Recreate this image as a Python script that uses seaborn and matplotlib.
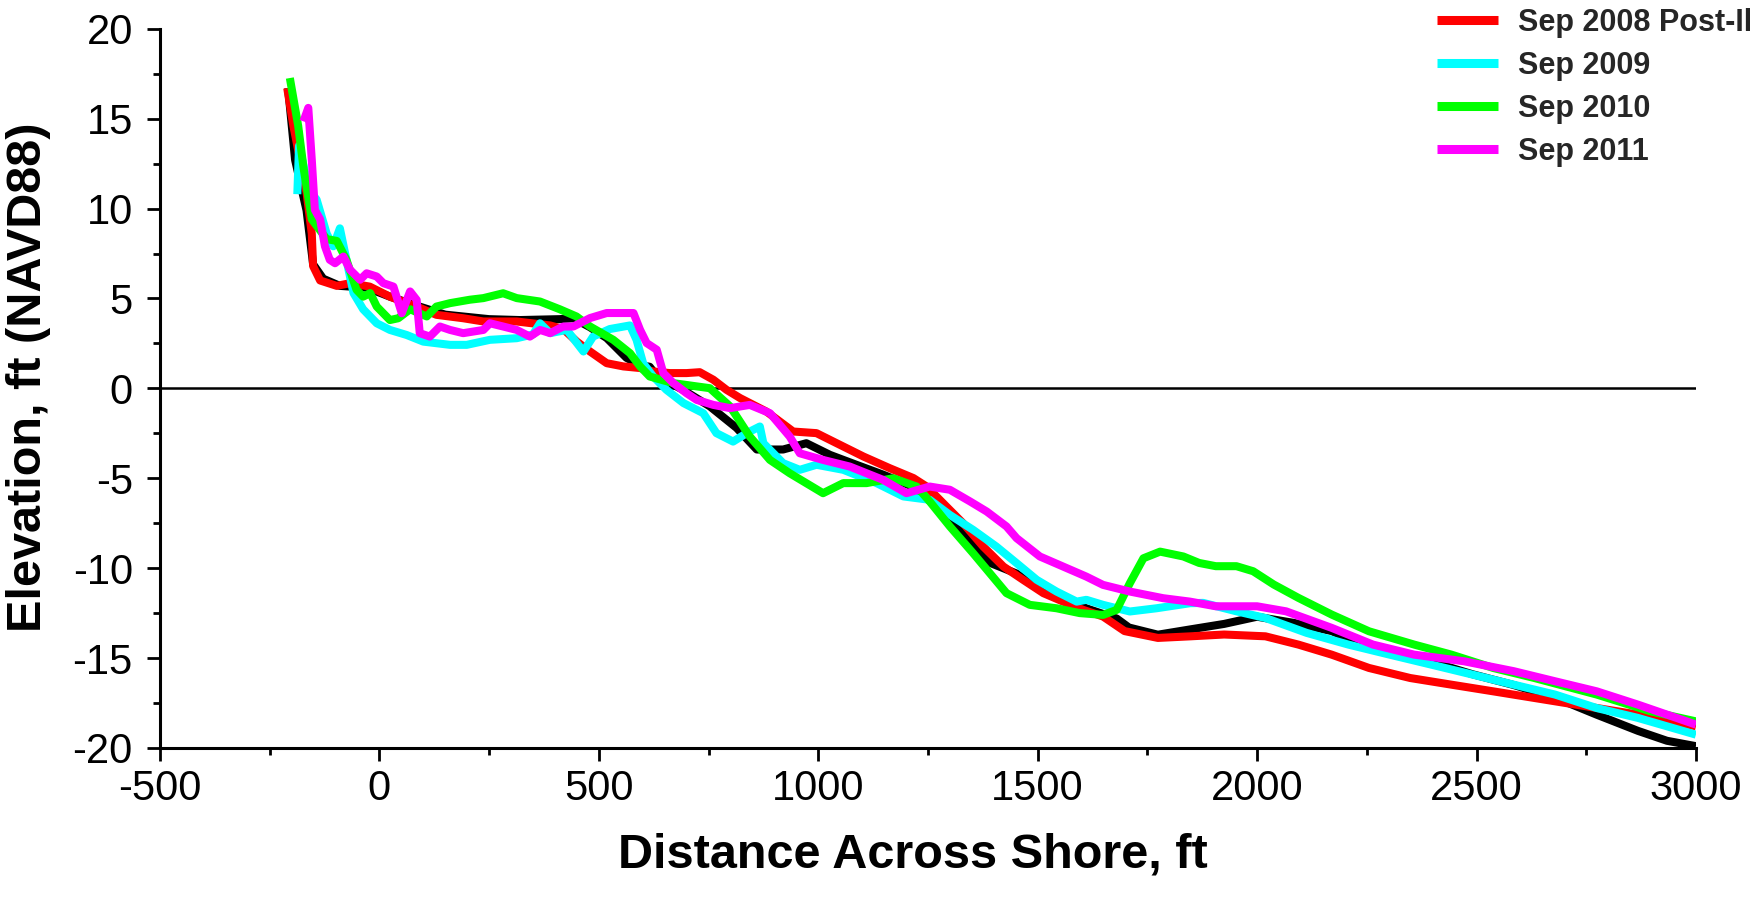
import numpy as np
import pandas as pd
import matplotlib
matplotlib.use("Agg")
import matplotlib.pyplot as plt
import seaborn as sns
from matplotlib.ticker import MultipleLocator
from matplotlib.lines import Line2D

sns.set_theme(style="white")
plt.rcParams['font.family'] = ['Liberation Sans', 'DejaVu Sans']
plt.rcParams['axes.unicode_minus'] = False

# ---------------- data ----------------
labels = ["Sep 2008 Pre-Ike", "Sep 2008 Post-Ike", "Sep 2009", "Sep 2010", "Sep 2011"]
colors = ["#000000", "#FF0000", "#00FFFF", "#00FF00", "#FF00FF"]

pre_x = [-208, -192, -166, -151, -128, -90, -29, 24, 85, 150,
         250, 320, 411, 442, 480, 518, 563, 594, 616, 632,
         693, 753, 814, 860, 920, 973, 1027, 1087, 1148, 1209,
         1262, 1300, 1330, 1391, 1452, 1505, 1573, 1619, 1680, 1708,
         1774, 1849, 1925, 2000, 2085, 2170, 2226, 2302, 2396, 2491,
         2585, 2679, 2774, 2868, 2934, 3000]
pre_y = [16.7, 12.7, 9.9, 6.9, 6.1, 5.7, 5.6, 5.1, 4.6, 4.1,
         3.85, 3.8, 3.85, 3.9, 3.4, 2.8, 1.7, 1.3, 1.2, 0.7,
         -0.1, -1.0, -2.2, -3.4, -3.4, -3.05, -3.7, -4.25, -4.8, -5.4,
         -6.4, -7.3, -8.05, -9.7, -10.3, -11.2, -11.9, -12.3, -12.8, -13.3,
         -13.7, -13.4, -13.1, -12.7, -13.05, -13.5, -14.1, -14.6, -15.2, -15.9,
         -16.5, -17.2, -18.15, -19.05, -19.6, -19.9]

post_x = [-210, -196, -166, -154, -151, -135, -97, -67, -22, 24,
          85, 130, 191, 237, 313, 389, 419, 450, 480, 518,
          556, 594, 624, 662, 700, 730, 761, 791, 822, 882,
          943, 996, 1042, 1103, 1163, 1217, 1247, 1292, 1330, 1376,
          1422, 1467, 1513, 1558, 1604, 1649, 1698, 1774, 1849, 1925,
          2019, 2094, 2170, 2255, 2349, 2443, 2538, 2632, 2726, 2821,
          2915, 3000]
post_y = [16.7, 14.6, 10.9, 8.6, 6.8, 6.0, 5.7, 5.85, 5.66, 5.1,
          4.55, 4.09, 3.9, 3.72, 3.72, 3.5, 3.3, 2.6, 2.05, 1.4,
          1.22, 1.13, 0.94, 0.85, 0.85, 0.9, 0.48, -0.08, -0.54, -1.29,
          -2.4, -2.49, -3.05, -3.79, -4.44, -4.99, -5.46, -6.57, -7.5, -8.8,
          -9.91, -10.65, -11.39, -11.86, -12.32, -12.69, -13.5, -13.88, -13.79, -13.69,
          -13.79, -14.25, -14.81, -15.55, -16.11, -16.48, -16.85, -17.22, -17.59, -17.96,
          -18.33, -18.8]

s09_x = [-187, -183, -172, -160, -143, -120, -105, -90, -75, -59,
         -37, -6, 24, 62, 100, 161, 199, 252, 313, 350,
         366, 389, 427, 465, 487, 525, 571, 586, 601, 624,
         654, 693, 738, 768, 806, 837, 867, 875, 920, 958,
         996, 1057, 1133, 1194, 1254, 1300, 1353, 1406, 1452, 1498,
         1543, 1589, 1611, 1649, 1710, 1771, 1847, 1877, 1953, 2019,
         2113, 2208, 2302, 2396, 2491, 2585, 2679, 2774, 2868, 3000]
s09_y = [10.8, 13.5, 12.3, 11.0, 10.5, 8.6, 7.9, 8.9, 7.15, 5.3,
         4.4, 3.62, 3.25, 2.97, 2.6, 2.42, 2.42, 2.7, 2.79, 3.0,
         3.62, 3.07, 3.25, 2.05, 2.88, 3.3, 3.5, 2.7, 1.4, 0.66,
         -0.08, -0.82, -1.38, -2.49, -2.96, -2.49, -2.12, -3.05, -4.16, -4.53,
         -4.25, -4.53, -5.27, -6.01, -6.2, -7.04, -7.87, -8.8, -9.72, -10.65,
         -11.3, -11.86, -11.76, -12.04, -12.41, -12.23, -11.95, -11.93, -12.40, -12.77,
         -13.60, -14.25, -14.81, -15.36, -15.92, -16.48, -17.03, -17.78, -18.33, -19.26]

s10_x = [-204, -185, -173, -154, -120, -97, -75, -52, -37, -21,
         -6, 24, 43, 70, 108, 130, 161, 206, 237, 282,
         313, 366, 411, 449, 480, 533, 571, 594, 616, 670,
         723, 753, 799, 844, 890, 935, 1011, 1057, 1110, 1171,
         1224, 1254, 1300, 1353, 1391, 1429, 1482, 1543, 1596, 1649,
         1680, 1710, 1741, 1779, 1832, 1868, 1906, 1953, 1991, 2038,
         2094, 2170, 2255, 2358, 2443, 2538, 2632, 2774, 2896, 3000]
s10_y = [17.26, 14.6, 12.3, 9.4, 8.3, 8.2, 7.15, 5.48, 5.1, 5.3,
         4.55, 3.8, 3.9, 4.4, 4.0, 4.55, 4.74, 4.93, 5.02, 5.29,
         5.02, 4.83, 4.4, 4.0, 3.44, 2.7, 1.96, 1.22, 0.66, 0.29,
         0.11, 0.01, -1.0, -2.68, -3.98, -4.72, -5.83, -5.27, -5.27, -5.0,
         -5.46, -6.29, -7.68, -9.17, -10.28, -11.39, -12.04, -12.23, -12.5, -12.6,
         -12.32, -10.84, -9.45, -9.08, -9.35, -9.71, -9.89, -9.89, -10.17, -10.91,
         -11.65, -12.58, -13.51, -14.25, -14.81, -15.55, -16.11, -17.03, -17.96, -18.52]

s11_x = [-173, -162, -154, -147, -135, -124, -113, -101, -82, -67,
         -44, -29, -6, 9, 32, 51, 70, 85, 92, 115,
         138, 161, 191, 237, 252, 282, 313, 343, 366, 389,
         419, 442, 480, 518, 579, 594, 609, 632, 647, 670,
         700, 723, 761, 799, 844, 890, 935, 958, 1011, 1072,
         1148, 1201, 1254, 1300, 1346, 1384, 1429, 1452, 1505, 1558,
         1611, 1649, 1710, 1786, 1847, 1906, 2000, 2066, 2170, 2264,
         2358, 2472, 2585, 2679, 2774, 2868, 3000]
s11_y = [14.85, 15.6, 12.7, 9.93, 9.4, 7.9, 7.15, 6.96, 7.33, 6.6,
         6.04, 6.4, 6.22, 5.85, 5.66, 4.18, 5.39, 4.92, 3.07, 2.88,
         3.44, 3.25, 3.07, 3.25, 3.62, 3.44, 3.25, 2.88, 3.25, 3.07,
         3.44, 3.44, 3.91, 4.19, 4.19, 3.26, 2.52, 2.15, 0.85, 0.29,
         -0.27, -0.64, -0.92, -1.10, -0.92, -1.38, -2.68, -3.61, -3.98, -4.35,
         -5.09, -5.83, -5.46, -5.64, -6.29, -6.85, -7.68, -8.33, -9.35, -9.91,
         -10.47, -10.93, -11.3, -11.67, -11.86, -12.12, -12.12, -12.40, -13.32, -14.25,
         -14.81, -15.18, -15.73, -16.29, -16.85, -17.59, -18.70]

xticks = [-500, 0, 500, 1000, 1500, 2000, 2500, 3000]
yticks = [-20, -15, -10, -5, 0, 5, 10, 15, 20]

# ---------------- build frame ----------------
series = [(labels[0], pre_x, pre_y), (labels[1], post_x, post_y),
          (labels[2], s09_x, s09_y), (labels[3], s10_x, s10_y),
          (labels[4], s11_x, s11_y)]
frames = [pd.DataFrame({"Distance": xs, "Elevation": ys, "Survey": lab})
          for lab, xs, ys in series]
df = pd.concat(frames, ignore_index=True)

# ---------------- figure ----------------
fig = plt.figure(figsize=(17.5, 8.99), dpi=100)
ax = fig.add_axes([0.0914, 0.168, 0.8777, 0.800])

ax.axhline(0, color="black", lw=1.8, zorder=1)
sns.lineplot(data=df, x="Distance", y="Elevation", hue="Survey",
             hue_order=labels, palette=dict(zip(labels, colors)),
             sort=False, estimator=None, linewidth=5.8, legend=False,
             solid_capstyle="butt", ax=ax, zorder=2)

ax.set_xlim(-500, 3000)
ax.set_ylim(-20, 20)
ax.set_xticks(xticks)
ax.set_yticks(yticks)
ax.set_xticklabels([str(v) for v in xticks])
ax.set_yticklabels([str(v) for v in yticks])
ax.xaxis.set_minor_locator(MultipleLocator(250))
ax.yaxis.set_minor_locator(MultipleLocator(2.5))

for s in ["top", "right"]:
    ax.spines[s].set_visible(False)
for s in ["left", "bottom"]:
    ax.spines[s].set_color("black")
    ax.spines[s].set_linewidth(2.2)

ax.tick_params(which="both", bottom=True, left=True, direction="out", color="black")
ax.tick_params(which="major", length=9.5, width=2, labelsize=30, labelcolor="black")
ax.tick_params(axis="y", which="major", pad=10)
ax.tick_params(axis="x", which="major", pad=6)
ax.tick_params(which="minor", length=5, width=2)
ax.grid(False)

ax.set_xlabel("Distance Across Shore, ft", fontsize=35, fontweight="bold", color="black")
ax.set_ylabel("Elevation, ft (NAVD88)", fontsize=35, fontweight="bold", color="black")
ax.xaxis.set_label_coords(0.49, -0.118)
ax.yaxis.set_label_coords(-0.071, 0.515)

handles = [Line2D([], [], color=c, lw=6.5, solid_capstyle="butt") for c in colors]
fig.legend(handles, labels, loc="center left",
           bbox_to_anchor=(1437 / 1750, 1 - 66 / 899),
           frameon=False, borderpad=0, borderaxespad=0,
           handlelength=2.0, handletextpad=0.65, labelspacing=0.42,
           prop={"weight": "bold", "size": 22})

fig.savefig("out.png", dpi=100)
